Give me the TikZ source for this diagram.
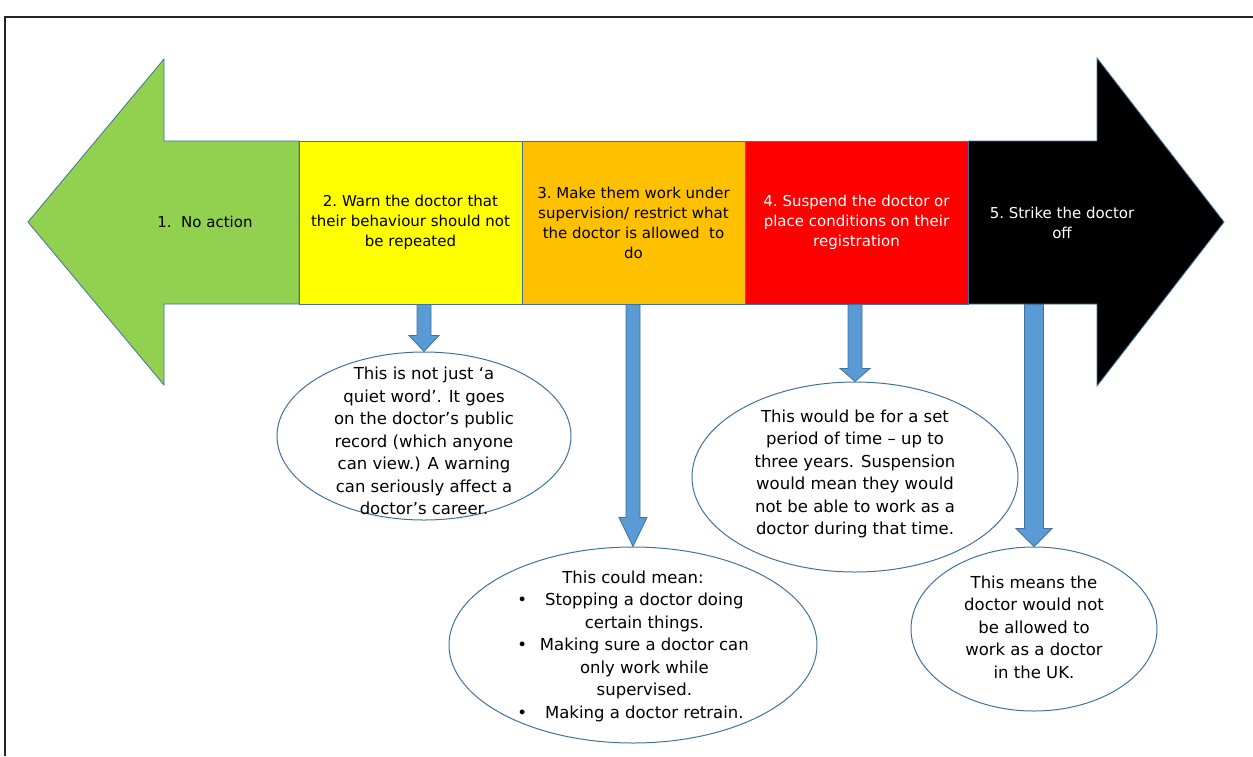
\documentclass[tikz,border=0pt]{standalone}
\usepackage{fontspec}
\setmainfont{DejaVu Sans}
\usetikzlibrary{calc,shapes.geometric}
\definecolor{okgreen}{HTML}{92D050}
\definecolor{warnyellow}{HTML}{FFFF00}
\definecolor{restrictorange}{HTML}{FFC000}
\definecolor{suspendred}{HTML}{FF0000}
\definecolor{edgeblue}{HTML}{41719C}
\definecolor{dropblue}{HTML}{5B9BD5}
% block arrow: from box, to note, shaft half width, head half width, head length
\newcommand{\droparrow}[5]{%
  \draw[droparr] let \p1=(#1), \p2=(#2) in
    (\x2-#3,\y1) -- (\x2-#3,\y2+#5) -- (\x2-#4,\y2+#5) -- (\x2,\y2)
    -- (\x2+#4,\y2+#5) -- (\x2+#3,\y2+#5) -- (\x2+#3,\y1) -- cycle;}
\begin{document}
\begin{tikzpicture}[x=1pt,y=-1pt,
  stage/.style={draw=edgeblue,line width=0.8pt,minimum width=223pt,minimum height=163pt,
    inner sep=0pt,align=center,font=\fontsize{15}{20}\selectfont},
  note/.style={ellipse,draw=edgeblue,line width=1pt,inner sep=0pt},
  notetext/.style={align=center,font=\fontsize{16.5}{22.5}\selectfont},
  droparr/.style={fill=dropblue,draw=edgeblue,line width=0.8pt}]
\useasboundingbox (0,0) rectangle (1253,756);
\draw[line width=1.5pt,black!85] (5,756) -- (5,17) -- (1253,17);

% the scale of sanctions
\draw[fill=okgreen,draw=edgeblue,line width=0.8pt] (28,222) -- (164,59) -- (164,141) -- (299,141)
  -- (299,304) -- (164,304) -- (164,385) -- cycle;
\draw[fill=black,draw=edgeblue,line width=0.8pt] (968,141) -- (1097,141) -- (1097,58) -- (1224,222)
  -- (1097,386) -- (1097,304) -- (968,304) -- cycle;
\node[font=\fontsize{15}{20}\selectfont] (noaction) at (205,222) {1.\ \ No action};
\node[stage,fill=warnyellow] (warn) at (410.5,222.5) {2.\ Warn the doctor that\\their behaviour should not\\be repeated};
\node[stage,fill=restrictorange] (restrict) at (633.5,222.5) {3.\ Make them work under\\supervision/ restrict what\\the doctor is allowed\ \ to\\do};
\node[stage,fill=suspendred,text=white] (suspend) at (856.5,222.5) {4.\ Suspend the doctor or\\place conditions on their\\registration};
\node[align=center,text=white,font=\fontsize{15}{20}\selectfont] (strike) at (1062,223) {5.\ Strike the doctor\\off};

% what each one means
\node[note,minimum width=294pt,minimum height=168pt] (warnnote) at (424,436) {};
\node[note,minimum width=368pt,minimum height=196pt] (restrictnote) at (633,645) {};
\node[note,minimum width=326pt,minimum height=190pt] (suspendnote) at (855,477) {};
\node[note,minimum width=246pt,minimum height=164pt] (strikenote) at (1034,629) {};

\node[notetext] (warntext) at (424,441) {This is not just ‘a\\quiet word’. It goes\\on the doctor’s public\\record (which anyone\\can view.) A warning\\can seriously affect a\\doctor’s career.};
\node[notetext] (restricttext) at (633,646) {%
  \begin{tabular}{@{}c@{\hspace{13pt}}c@{}}
  \multicolumn{2}{c}{This could mean:}\\
  \textbullet & Stopping a doctor doing\\
              & certain things.\\
  \textbullet & Making sure a doctor can\\
              & only work while\\
              & supervised.\\
  \textbullet & Making a doctor retrain.
  \end{tabular}};
\node[notetext] (suspendtext) at (855,474) {This would be for a set\\period of time -- up to\\three years. Suspension\\would mean they would\\not be able to work as a\\doctor during that time.};
\node[notetext] (striketext) at (1034,627) {This means the\\doctor would not\\be allowed to\\work as a doctor\\in the UK.};

\droparrow{warn.south}{warnnote.north}{7pt}{15pt}{16pt}
\droparrow{restrict.south}{restrictnote.north}{7pt}{14pt}{29pt}
\droparrow{suspend.south}{suspendnote.north}{7pt}{15pt}{13pt}
\droparrow{strike.south |- suspend.south}{strikenote.north}{9.5pt}{18pt}{18pt}
\end{tikzpicture}
\end{document}
